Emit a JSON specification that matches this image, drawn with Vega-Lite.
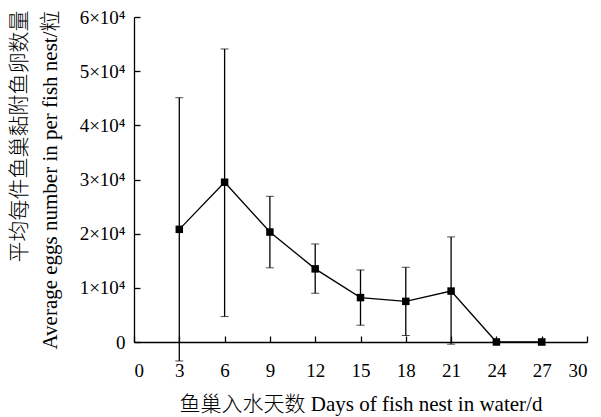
{
  "$schema": "https://vega.github.io/schema/vega-lite/v6.json",
  "width": 453,
  "height": 325,
  "autosize": "none",
  "padding": {"left": 134, "top": 17, "right": 14, "bottom": 75},
  "background": "white",
  "config": {
    "view": {"stroke": null},
    "font": "Liberation Serif",
    "axis": {
      "grid": false,
      "domainColor": "black",
      "domainWidth": 1.3,
      "tickColor": "black",
      "tickWidth": 1.3,
      "tickSize": -6,
      "labelColor": "black",
      "labelFont": "Liberation Serif",
      "labelFontSize": 19,
      "titleColor": "black",
      "titleFont": "Liberation Serif, Noto Sans CJK SC",
      "titleFontSize": 21,
      "titleFontWeight": 300
    }
  },
  "data": {
    "values": [
      {"day": 3, "mean": 20800, "lo": -3500, "hi": 45100},
      {"day": 6, "mean": 29500, "lo": 4700, "hi": 54100},
      {"day": 9, "mean": 20300, "lo": 13700, "hi": 26900},
      {"day": 12, "mean": 13500, "lo": 9000, "hi": 18100},
      {"day": 15, "mean": 8200, "lo": 3100, "hi": 13300},
      {"day": 18, "mean": 7500, "lo": 1200, "hi": 13800},
      {"day": 21, "mean": 9400, "lo": -400, "hi": 19400},
      {"day": 24, "mean": 0, "lo": 0, "hi": 0},
      {"day": 27, "mean": 0, "lo": -500, "hi": 500}
    ]
  },
  "encoding": {
    "x": {
      "field": "day",
      "type": "quantitative",
      "scale": {"domain": [0, 30], "nice": false},
      "axis": {
        "values": [0, 3, 6, 9, 12, 15, 18, 21, 24, 27, 30],
        "labelPadding": 25,
        "title": "鱼巢入水天数 Days of fish nest in water/d",
        "titleBaseline": "middle",
        "titleY": 62
      }
    }
  },
  "layer": [
    {
      "mark": {"type": "errorbar", "color": "black", "ticks": {"size": 8, "color": "black", "strokeWidth": 1.3}, "rule": {"strokeWidth": 1.3}},
      "encoding": {
        "y": {
          "field": "lo",
          "type": "quantitative",
          "scale": {"domain": [0, 60000], "nice": false},
          "axis": {
            "values": [0, 10000, 20000, 30000, 40000, 50000, 60000],
            "labelExpr": "datum.value == 0 ? '0' : (datum.value / 10000) + '×10⁴'",
            "labelPadding": 15,
            "title": ["平均每件鱼巢黏附鱼卵数量", "Average eggs number in per fish nest/粒"],
            "titleAngle": -90,
            "titleAlign": "right",
            "titleBaseline": "top",
            "titleX": -126,
            "titleY": -7,
            "titleLineHeight": 31
          }
        },
        "y2": {"field": "hi"}
      }
    },
    {
      "mark": {"type": "line", "color": "black", "strokeWidth": 1.3},
      "encoding": {
        "y": {"field": "mean", "type": "quantitative"}
      }
    },
    {
      "mark": {"type": "point", "shape": "square", "filled": true, "color": "black", "size": 56, "opacity": 1},
      "encoding": {
        "y": {"field": "mean", "type": "quantitative"}
      }
    }
  ]
}
